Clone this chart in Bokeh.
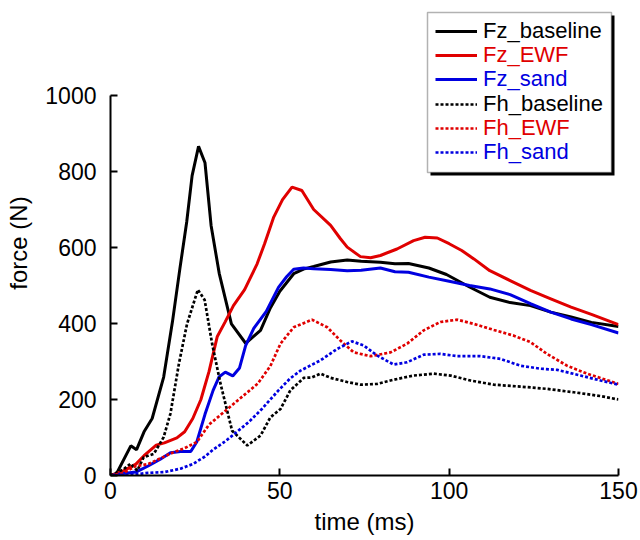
from bokeh.plotting import figure
from bokeh.models import Legend, LegendItem, BoxAnnotation, FixedTicker
from bokeh.embed import file_html
from bokeh.resources import INLINE

# ---- data (time in ms, force in N) ----
t_fz_baseline = [0, 1.5, 6, 7.7, 9.9, 12.3, 15.7, 18.3, 20.5, 22.5, 24.1, 26, 27.9, 29.7, 32.1, 35.7,
                 39.9, 42, 44.3, 47.2, 50, 54.1, 57, 60, 65, 69.9, 74, 79.7, 84, 88, 94, 99.2, 106,
                 112, 118, 124, 130, 136, 142, 150]
fz_baseline = [0, 0, 78, 68, 115, 150, 259, 405, 545, 667, 789, 866, 823, 658, 532, 399,
               348, 364, 382, 441, 485, 531, 543, 550, 562, 567, 564, 561, 557, 558, 546, 529, 496,
               469, 455, 447, 430, 417, 403, 392]

t_fz_ewf = [0, 3.8, 7.5, 9.9, 13.5, 15.9, 19.6, 21.9, 24.3, 26.7, 29.1, 31.5, 33.9, 36.3, 39.6,
            43.3, 45.5, 48.2, 50.8, 53.6, 56.5, 60, 65, 67.9, 69.9, 73.8, 76.8, 79.7, 84.6, 89.5,
            92.9, 96.5, 100, 103.7, 107.3, 112, 118, 124, 130, 136, 142, 150]
fz_ewf = [0, 12, 30, 52, 80, 86, 99, 115, 150, 200, 274, 365, 405, 447, 489,
          557, 610, 680, 726, 759, 750, 700, 658, 623, 601, 576, 573, 579, 596, 618,
          627, 625, 610, 592, 570, 539, 513, 487, 465, 443, 424, 397]

t_fz_sand = [0, 3.8, 7.5, 11.1, 14.7, 17.7, 20.7, 23.7, 25.5, 27.9, 30.3, 32.1, 33.9, 36.1, 38.1,
             39.9, 42.3, 46, 49.6, 52, 54.1, 57, 60, 65, 69.9, 74, 79.7, 84, 88, 94, 100, 106,
             112, 118, 124, 130, 136, 142, 150]
fz_sand = [0, 5, 9, 25, 43, 60, 63, 63, 89, 161, 224, 260, 272, 262, 283,
           342, 387, 432, 495, 523, 543, 546, 544, 542, 539, 540, 546, 536, 535, 522, 511, 500,
           491, 476, 452, 430, 412, 397, 375]

t_fh_baseline = [0, 3.8, 5.9, 7.9, 9.8, 12.8, 15.7, 17.7, 20.2, 22.6, 25.8, 27.8, 30, 32.5, 35.9,
                 40.4, 44.3, 47.2, 50.2, 53.1, 57.1, 59.5, 62, 65, 69.9, 73.8, 78.7, 83.6, 89.5,
                 95.4, 100.4, 106.3, 113.2, 121, 128.9, 136.8, 144.7, 150]
fh_baseline = [0, 16, 31, 13, 48, 57, 101, 163, 294, 399, 489, 462, 347, 241, 118,
               79, 105, 153, 175, 224, 257, 258, 268, 257, 246, 239, 241, 252, 263,
               268, 263, 250, 239, 234, 228, 219, 209, 200]

t_fh_ewf = [0, 3.8, 7.5, 11.1, 14.7, 18.3, 21.9, 25.5, 29.1, 32.7, 36.3, 39.9, 43.5, 47.2, 50.2,
            54.1, 59.5, 64, 67.9, 71.8, 76.8, 82.7, 87.6, 92.5, 97.4, 102.4, 107.3, 113.2, 119.1,
            124, 128.9, 134.8, 140.7, 150]
fh_ewf = [0, 7, 25, 30, 45, 60, 72, 88, 134, 161, 188, 215, 242, 288, 347,
          390, 410, 390, 355, 324, 314, 324, 347, 382, 404, 410, 399, 383, 368,
          351, 320, 289, 268, 241]

t_fh_sand = [0, 7.5, 11.1, 15.9, 20.7, 24.3, 27.9, 30.3, 33.9, 37.5, 41.1, 44.7, 49.6, 53, 56.1,
             62, 66.9, 71.3, 74.8, 78.7, 83.6, 87.6, 92.5, 97.4, 102.4, 109.2, 115.1, 121, 127,
             131.9, 138.8, 144.7, 150]
fh_sand = [0, 3, 7, 9, 18, 30, 50, 68, 90, 116, 143, 175, 224, 255, 276,
           303, 333, 353, 342, 316, 292, 298, 318, 320, 314, 314, 307, 289, 281,
           278, 263, 250, 239]

series_names = ["Fz_baseline", "Fz_EWF", "Fz_sand", "Fh_baseline", "Fh_EWF", "Fh_sand"]
x_ticks = [0, 50, 100, 150]
y_ticks = [0, 200, 400, 600, 800, 1000]

BLACK = "#000000"
RED = "#e00000"
BLUE = "#0000e0"
FONT = "Liberation Sans"

# frame: x 110..618, y 10..475 ; value 1000 sits at y 95
Y_TOP = (475 - 10) / 0.38

p = figure(width=640, height=540, x_range=(0, 150), y_range=(0, Y_TOP),
           output_backend="svg", toolbar_location=None,
           min_border_left=110, min_border_right=22, min_border_top=10, min_border_bottom=65)
p.outline_line_color = None
p.xgrid.visible = False
p.ygrid.visible = False
p.background_fill_color = "white"

for ax in (p.xaxis[0], p.yaxis[0]):
    ax.axis_line_width = 2
    ax.major_tick_line_width = 2
    ax.major_tick_in = 7
    ax.major_tick_out = 0
    ax.minor_tick_line_color = None
    ax.major_label_text_font = FONT
    ax.major_label_text_font_size = "23px"
    ax.major_label_text_color = "black"
    ax.axis_label_text_font = FONT
    ax.axis_label_text_font_size = "24px"
    ax.axis_label_text_font_style = "normal"
    ax.axis_label_text_color = "black"

p.xaxis.ticker = FixedTicker(ticks=x_ticks)
p.yaxis.ticker = FixedTicker(ticks=y_ticks)
p.yaxis.bounds = (0, 1000)
p.xaxis.axis_label = "time (ms)"
p.yaxis.axis_label = "force (N)"
p.xaxis.major_label_standoff = 6
p.xaxis.axis_label_standoff = 6
p.yaxis.major_label_standoff = 14
p.yaxis.axis_label_standoff = 10

solid_w = 3
dot_w = 2.7
dash = "3 2"
r1 = p.line(t_fz_baseline, fz_baseline, line_color=BLACK, line_width=solid_w)
r2 = p.line(t_fz_ewf, fz_ewf, line_color=RED, line_width=solid_w)
r3 = p.line(t_fz_sand, fz_sand, line_color=BLUE, line_width=solid_w)
r4 = p.line(t_fh_baseline, fh_baseline, line_color=BLACK, line_width=dot_w, line_dash=dash)
r5 = p.line(t_fh_ewf, fh_ewf, line_color=RED, line_width=dot_w, line_dash=dash)
r6 = p.line(t_fh_sand, fh_sand, line_color=BLUE, line_width=dot_w, line_dash=dash)

# legend box with shadow (screen units relative to the frame's bottom-left)
shadow = BoxAnnotation(left=320, right=504, top=460, bottom=300,
                       left_units="screen", right_units="screen", top_units="screen", bottom_units="screen",
                       fill_color="black", fill_alpha=1, line_color=None)
box = BoxAnnotation(left=317, right=501, top=463, bottom=303,
                    left_units="screen", right_units="screen", top_units="screen", bottom_units="screen",
                    fill_color="white", fill_alpha=1, line_color="black", line_width=1.5)
p.add_layout(shadow)
p.add_layout(box)

renderers = [r1, r2, r3, r4, r5, r6]
colors = [BLACK, RED, BLUE, BLACK, RED, BLUE]
row_centers = [31, 55, 79, 104, 128, 152]
for name, r, c, cy in zip(series_names, renderers, colors, row_centers):
    lg = Legend(items=[LegendItem(label=name, renderers=[r])],
                location=(325, 475 - (cy + 13)),
                padding=0, margin=0, spacing=0,
                border_line_color=None, background_fill_alpha=0,
                label_text_color=c, label_text_font=FONT, label_text_font_size="22px",
                glyph_width=42, glyph_height=20, label_height=20, label_standoff=6)
    p.add_layout(lg, "center")

open("out.html", "w").write(file_html(p, INLINE))
